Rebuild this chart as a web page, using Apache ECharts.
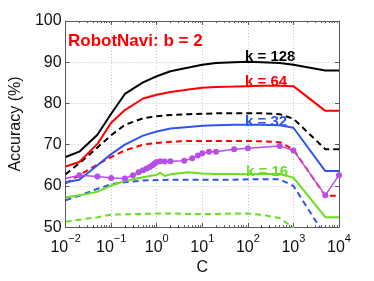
<!DOCTYPE html>
<html><head><meta charset="utf-8">
<script src="https://cdn.jsdelivr.net/npm/echarts@6/dist/echarts.min.js"></script>
<style>html,body{margin:0;padding:0;background:#fff}#c{width:374px;height:281px}</style>
</head><body><div id="c"></div>
<script>
const C = [0.01,0.02,0.05,0.1,0.2,0.5,1,2,5,10,20,50,100,200,500,1000,5000,10000];
const k128 = [67.0,68.3,72.4,77.5,82.3,85.1,86.6,87.8,88.7,89.4,89.8,90.0,90.1,90.0,89.8,89.4,88.0,88.0];
const k64  = [64.7,65.8,70.2,75.3,78.4,81.2,82.1,82.8,83.4,83.8,84.0,84.1,84.2,84.3,84.3,84.2,78.2,78.2];
const k32  = [60.9,61.5,65.0,67.7,70.0,72.2,73.2,73.9,74.3,74.6,74.7,74.8,74.8,74.8,74.7,74.1,63.6,63.6];
const k128d = [62.8,65.5,69.3,72.3,74.8,76.4,76.9,77.2,77.4,77.5,77.6,77.6,77.6,77.6,77.4,76.3,68.9,68.9];
const k64d  = [60.6,62.6,65.2,67.0,68.6,70.0,70.4,70.7,70.9,70.9,70.9,70.9,70.9,70.8,70.6,68.8,57.6,57.6];
const k32d  = [56.5,57.6,59.3,60.4,60.9,61.3,61.4,61.5,61.5,61.5,61.5,61.5,61.6,61.6,61.6,60.0,47.8,47.8];
const k16d  = [51.3,51.8,52.4,53.0,53.1,53.2,53.3,53.3,53.2,53.2,53.2,53.3,53.3,53.0,52.2,49.8,42.0,42.0];
const cGreen = [0.01,0.02,0.05,0.1,0.2,0.5,1,1.2,1.5,2,5,10,20,50,100,200,500,1000,5000,10000];
const k16  = [57.2,57.7,58.6,60.1,61.2,62.1,62.7,63.2,62.4,62.8,63.3,63.0,62.9,62.9,62.8,62.9,62.9,62.0,52.4,52.4];
const cPurple = [0.01,0.02,0.05,0.1,0.2,0.3,0.4,0.5,0.6,0.7,0.8,0.9,1,1.2,1.5,2,4,6,8,10,14,20,50,100,500,1000,5000,10000];
const purple = [61.8,62.6,62.3,61.9,61.8,62.6,63.3,63.8,64.2,64.6,65.0,65.4,65.8,66.0,65.9,66.0,66.1,66.7,67.4,67.9,68.3,68.3,68.9,69.1,69.7,68.6,57.7,62.6];
const yTicks = [50,60,70,80,90,100];
const title = 'RobotNavi: b = 2';
const kLabels = ['k = 128','k = 64','k = 32','k = 16'];

const FONT = 'Liberation Sans, Arial, Helvetica, sans-serif';
const BLACK='#000000', RED='#ff0000', BLUE='#2f55ee', GREEN='#66e01e', PURPLE='#b64ee8';
const zip = (xs, ys) => xs.map((x,i)=>[x,ys[i]]);
function line(name, xs, ys, color, dashed){
  return {name, type:'line', data: zip(xs,ys), symbol:'none', clip:true, animation:false,
    lineStyle:{color, width:2, type: dashed ? [6,4] : 'solid'}, z: dashed?2:3};
}
const chart = echarts.init(document.getElementById('c'), null, {renderer:'canvas'});
const axisLineStyle = {color:'#5a5a5a', width:1};
chart.setOption({
  animation:false,
  textStyle:{fontFamily:FONT},
  grid:{left:57, right:35, top:21, bottom:46, containLabel:false},
  xAxis:[{
    type:'log', logBase:10, min:0.01, max:10000,
    name:'C', nameLocation:'middle', nameGap:26,
    nameTextStyle:{fontSize:16, color:'#111', fontFamily:FONT},
    axisLine:{show:true, lineStyle:axisLineStyle},
    axisTick:{show:true, inside:true, length:4, lineStyle:axisLineStyle},
    minorTick:{show:true, splitNumber:9, length:2, lineStyle:axisLineStyle},
    splitLine:{show:true, lineStyle:{color:'#c8c8c8', type:[1,2], width:1}},
    axisLabel:{margin:6, color:'#111', fontSize:16, fontFamily:FONT,
      formatter: v => '{b|10}{s|' + String(Math.round(Math.log10(v))).replace('-','\u2212') + '}',
      rich:{b:{fontSize:16, fontFamily:FONT, color:'#111', verticalAlign:'bottom', lineHeight:22},
            s:{fontSize:11, fontFamily:FONT, color:'#111', verticalAlign:'top', lineHeight:22}}}
  },{
    type:'log', logBase:10, min:0.01, max:10000, position:'top',
    axisLine:{show:true, lineStyle:axisLineStyle},
    axisTick:{show:true, inside:true, length:4, lineStyle:axisLineStyle},
    minorTick:{show:true, splitNumber:9, length:2, lineStyle:axisLineStyle},
    axisLabel:{show:false}, splitLine:{show:false}
  }],
  yAxis:[{
    type:'value', min:yTicks[0], max:yTicks[yTicks.length-1], interval:10,
    name:'Accuracy (%)', nameLocation:'middle', nameGap:33,
    nameTextStyle:{fontSize:16, color:'#111', fontFamily:FONT},
    axisLine:{show:true, lineStyle:axisLineStyle},
    axisTick:{show:true, inside:true, length:4, lineStyle:axisLineStyle},
    splitLine:{show:true, lineStyle:{color:'#c8c8c8', type:[1,2], width:1}},
    axisLabel:{margin:4, color:'#111', fontSize:16, fontFamily:FONT}
  },{
    type:'value', min:yTicks[0], max:yTicks[yTicks.length-1], interval:10, position:'right',
    axisLine:{show:true, lineStyle:axisLineStyle},
    axisTick:{show:true, inside:true, length:4, lineStyle:axisLineStyle},
    axisLabel:{show:false}, splitLine:{show:false}
  }],
  series:[
    line('k16d', C, k16d, GREEN, true),
    line('k32d', C, k32d, BLUE, true),
    line('k64d', C, k64d, RED, true),
    line('k128d', C, k128d, BLACK, true),
    line('k16', cGreen, k16, GREEN, false),
    line('k32', C, k32, BLUE, false),
    line('k64', C, k64, RED, false),
    line('k128', C, k128, BLACK, false),
    {name:'purple', type:'line', data:zip(cPurple,purple), clip:true, z:4,
     symbol:(v,p)=> p.dataIndex===0 ? 'none' : 'circle', symbolSize:6,
     itemStyle:{color:PURPLE, borderWidth:0}, lineStyle:{color:PURPLE, width:1.5}}
  ],
  graphic:[
    {type:'text', left:68, top:33, style:{text:title, fill:RED, font:'bold 17px '+FONT}},
    {type:'text', left:245, top:49, style:{text:kLabels[0], fill:BLACK, font:'bold 15px '+FONT}},
    {type:'text', left:245, top:74, style:{text:kLabels[1], fill:RED, font:'bold 15px '+FONT}},
    {type:'text', left:245, top:114, style:{text:kLabels[2], fill:BLUE, font:'bold 15px '+FONT}},
    {type:'text', left:246, top:164, style:{text:kLabels[3], fill:GREEN, font:'bold 15px '+FONT}}
  ]
});
</script></body></html>
